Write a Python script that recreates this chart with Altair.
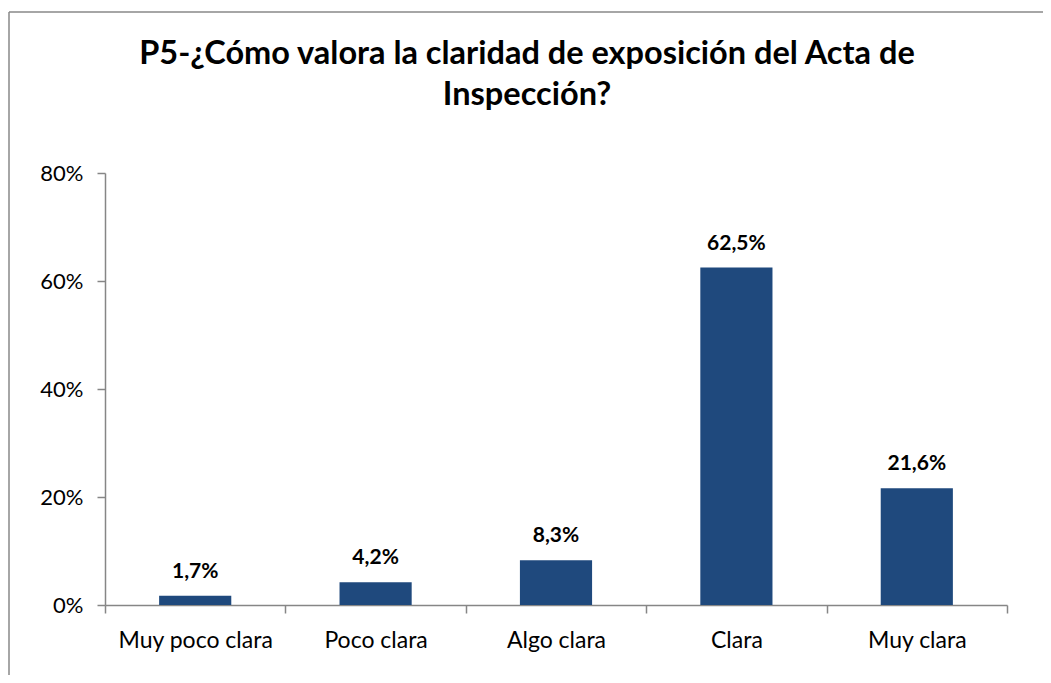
import altair as alt
import pandas as pd

categories = ["Muy poco clara", "Poco clara", "Algo clara", "Clara", "Muy clara"]
values = [1.7, 4.2, 8.3, 62.5, 21.6]
value_labels = ["1,7%", "4,2%", "8,3%", "62,5%", "21,6%"]
y_ticks = [0, 0.2, 0.4, 0.6, 0.8]
title_lines = ["P5-¿Cómo valora la claridad de exposición del Acta de", "Inspección?"]

df = pd.DataFrame({"cat": categories, "val": [v / 100 for v in values], "lab": value_labels})
title_df = pd.DataFrame({"t": title_lines, "line": [0, 1]})
frame_df = pd.DataFrame({"k": [0]})

W, H = 902, 432
FONT = "Lato"
GRAY = "#868686"
BAR = "#1F497D"

x = alt.X(
    "cat:N", sort=categories, title=None,
    scale=alt.Scale(paddingInner=0, paddingOuter=0),
    axis=alt.Axis(tickBand="extent", labelAngle=0, domainColor=GRAY, tickColor=GRAY,
                  tickSize=8, labelFontSize=23, labelFont=FONT, labelColor="black",
                  labelPadding=16, grid=False, domainWidth=1.5, tickWidth=1.5),
)
y = alt.Y(
    "val:Q", title=None,
    scale=alt.Scale(domain=[0, 0.8], nice=False),
    axis=alt.Axis(values=y_ticks, format=".0%", domainColor=GRAY, tickColor=GRAY,
                  tickSize=8, labelFontSize=22, labelFont=FONT, labelColor="black",
                  labelPadding=14, grid=False, domainWidth=1.5, tickWidth=1.5),
)

base = alt.Chart(df)
frame = alt.Chart(frame_df)

frame_left = frame.mark_rule(stroke="#898989", strokeWidth=1.5).encode(
    x=alt.value(-96), y=alt.value(-161), y2=alt.value(H + 300)
)
frame_top = frame.mark_rule(stroke="#898989", strokeWidth=1.5).encode(
    x=alt.value(-96), x2=alt.value(W + 300), y=alt.value(-161)
)

bars = base.mark_bar(color=BAR, width={"band": 0.4}).encode(x=x, y=y)
texts = base.mark_text(dy=-18, baseline="alphabetic", fontWeight="bold", fontSize=21,
                       font=FONT, color="black").encode(x=x, y=y, text="lab:N")

title_base = alt.Chart(title_df).mark_text(
    font=FONT, fontSize=32.5, fontWeight="bold", color="black", align="center",
    baseline="alphabetic"
)
title1 = title_base.transform_filter("datum.line == 0").encode(
    x=alt.value(422), y=alt.value(-109), text="t:N")
title2 = title_base.transform_filter("datum.line == 1").encode(
    x=alt.value(422), y=alt.value(-68), text="t:N")

chart = alt.layer(frame_left, frame_top, bars, texts, title1, title2).properties(
    width=W, height=H,
    background="white",
    autosize=alt.AutoSizeParams(type="none"),
    padding={"left": 97, "top": 165, "right": 36, "bottom": 70},
).configure_view(strokeWidth=0, stroke=None)

chart.save("out.html", embed_options={"renderer": "svg", "actions": False})
